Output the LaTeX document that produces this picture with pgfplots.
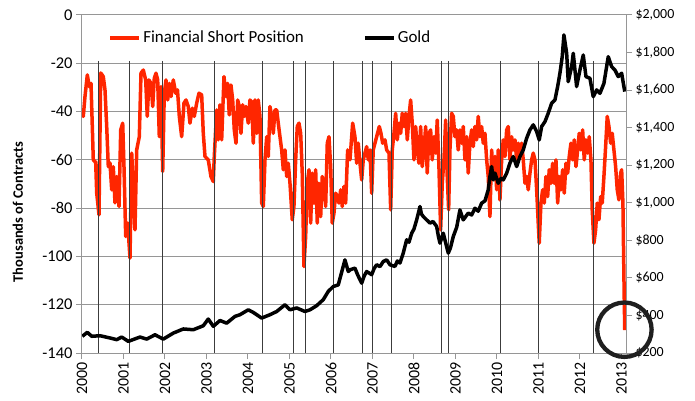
\documentclass[border=0pt]{standalone}
\usepackage{pgfplots}
\pgfplotsset{compat=1.18}
\usepackage{fontspec}
\setmainfont{Carlito}
\definecolor{fsred}{RGB}{255,38,0}
\definecolor{gridgray}{RGB}{150,150,150}
\definecolor{vline}{RGB}{60,60,60}
\begin{document}
\begin{tikzpicture}
\useasboundingbox (-82bp,-48bp) rectangle (613bp,353bp);
\begin{axis}[
  scale only axis, width=544bp, height=338bp,
  at={(0,0)}, anchor=south west,
  xmin=2000, xmax=2013.11, ymin=-140, ymax=0,
  axis lines=box,
  xtick={2000,2001,2002,2003,2004,2005,2006,2007,2008,2009,2010,2011,2012,2013},
  xticklabels={2000,2001,2002,2003,2004,2005,2006,2007,2008,2009,2010,2011,2012,2013},
  ytick={-140,-120,-100,-80,-60,-40,-20,0},
  yticklabels={-140,-120,-100,-80,-60,-40,-20,0},
  xtick pos=left, ytick pos=left,
  ymajorgrids, major grid style={gridgray, line width=1bp},
  axis line style={gridgray, line width=1bp},
  tick style={gridgray, line width=1bp},
  tick align=outside, major tick length=6bp,
  xticklabel style={rotate=90, anchor=east, font=\fontsize{16}{19}\selectfont},
  yticklabel style={font=\fontsize{16.5}{19}\selectfont},
  ylabel={\bfseries Thousands of Contracts},
  ylabel style={font=\fontsize{14.5}{17}\selectfont, at={(axis description cs:-0.118,0.417)}, anchor=center},
  legend style={draw=none, fill=none, at={(0.048,0.933)}, anchor=west, inner sep=0pt,
     legend columns=2, font=\fontsize{17}{20}\selectfont, cells={anchor=west},
     /tikz/every even column/.append style={column sep=57bp}},
  legend image code/.code={\draw[#1, line width=4bp] (0bp,0bp) -- (29bp,0bp);},
]
\addplot[fsred, line width=3.5bp, line join=round] coordinates {
(2000.000,-40.5)(2000.031,-42)(2000.072,-33.8)(2000.128,-24.8)(2000.176,-29.7)(2000.217,-28.3)(2000.248,-46)(2000.272,-60)(2000.330,-61)(2000.354,-73.7)(2000.410,-82.8)(2000.451,-24)(2000.513,-25.5)(2000.554,-31)(2000.595,-46)(2000.634,-62.8)(2000.675,-61.3)(2000.716,-72.4)(2000.754,-62.8)(2000.795,-77.8)(2000.836,-66.9)(2000.892,-79.3)(2000.933,-47.6)(2000.981,-44.8)(2001.012,-62.8)(2001.053,-91.7)(2001.101,-86.2)(2001.157,-100.7)(2001.198,-57.2)(2001.236,-72.4)(2001.277,-89)(2001.318,-55.9)(2001.381,-50.4)(2001.422,-24.1)(2001.477,-22.8)(2001.535,-26.9)(2001.573,-42)(2001.614,-26.9)(2001.663,-28.3)(2001.704,-37.9)(2001.742,-26.2)(2001.783,-24.1)(2001.824,-26.9)(2001.863,-50.4)(2001.904,-29.7)(2001.945,-64.8)(2001.983,-32.4)(2002.024,-26.9)(2002.065,-35.2)(2002.104,-28.3)(2002.145,-33.8)(2002.200,-26.9)(2002.258,-32.4)(2002.301,-31)(2002.345,-42)(2002.402,-50.4)(2002.458,-36.5)(2002.506,-35.2)(2002.561,-37.9)(2002.602,-44.8)(2002.658,-38.6)(2002.706,-42)(2002.764,-36.5)(2002.819,-32.4)(2002.884,-33.1)(2002.923,-49)(2002.964,-58.6)(2003.043,-60)(2003.108,-66.9)(2003.164,-69)(2003.188,-58.6)(2003.246,-39.3)(2003.284,-51.7)(2003.325,-37.2)(2003.366,-51.7)(2003.422,-25.5)(2003.470,-33.8)(2003.511,-28.3)(2003.549,-41.4)(2003.590,-29)(2003.631,-35.2)(2003.670,-47.6)(2003.711,-53.1)(2003.752,-35.2)(2003.790,-37.9)(2003.831,-49)(2003.872,-37.2)(2003.911,-42)(2003.952,-37.9)(2004.007,-44.8)(2004.048,-35.2)(2004.089,-36)(2004.128,-53.1)(2004.169,-35.2)(2004.210,-49)(2004.248,-35.2)(2004.289,-42)(2004.330,-77.9)(2004.369,-79.3)(2004.410,-60)(2004.451,-50.4)(2004.489,-58.6)(2004.530,-37.9)(2004.571,-42)(2004.610,-49)(2004.651,-39.3)(2004.692,-39.3)(2004.730,-44.8)(2004.771,-50.4)(2004.812,-55.9)(2004.851,-64.1)(2004.892,-55.9)(2004.933,-66.9)(2004.971,-61.4)(2005.012,-69.7)(2005.067,-84.8)(2005.108,-79.3)(2005.149,-60)(2005.188,-46.2)(2005.229,-44.8)(2005.270,-49)(2005.308,-65.5)(2005.349,-104.2)(2005.390,-91.7)(2005.429,-69.7)(2005.470,-64.1)(2005.511,-86.2)(2005.549,-65.5)(2005.590,-77.9)(2005.631,-64.1)(2005.670,-86.2)(2005.711,-69.7)(2005.752,-83.5)(2005.790,-66.9)(2005.831,-69.7)(2005.872,-79.3)(2005.911,-53.1)(2005.952,-50.4)(2005.993,-62.8)(2006.031,-86.2)(2006.072,-82.1)(2006.113,-73.8)(2006.152,-75.2)(2006.193,-77.9)(2006.234,-72.4)(2006.272,-79.3)(2006.313,-71)(2006.354,-77.9)(2006.402,-55.9)(2006.458,-60)(2006.523,-44.8)(2006.578,-50.4)(2006.619,-61.4)(2006.658,-53.1)(2006.699,-61.4)(2006.740,-68.3)(2006.778,-60)(2006.819,-57.2)(2006.860,-54.5)(2006.899,-60)(2006.940,-55.9)(2006.981,-73.8)(2007.019,-55.9)(2007.060,-53.1)(2007.101,-50.4)(2007.164,-46.2)(2007.205,-49)(2007.246,-53.1)(2007.301,-51.7)(2007.342,-55.9)(2007.398,-57.2)(2007.439,-80.7)(2007.477,-55.9)(2007.518,-49)(2007.559,-40.7)(2007.598,-51.7)(2007.639,-44.8)(2007.680,-49)(2007.718,-40.7)(2007.759,-46.2)(2007.800,-40.7)(2007.839,-51.7)(2007.880,-42)(2007.920,-35.2)(2007.959,-44.8)(2008.000,-60)(2008.041,-46.2)(2008.080,-55.9)(2008.120,-61.4)(2008.161,-46.2)(2008.200,-62.8)(2008.241,-55.9)(2008.282,-46.2)(2008.320,-65.5)(2008.361,-49)(2008.402,-47.6)(2008.441,-60)(2008.482,-50.4)(2008.523,-57.2)(2008.561,-43.5)(2008.602,-62.8)(2008.643,-89)(2008.682,-69.7)(2008.723,-60)(2008.764,-43.5)(2008.802,-66.9)(2008.836,-80.7)(2008.867,-55.9)(2008.908,-40.7)(2008.947,-42)(2008.988,-50.4)(2009.029,-47.6)(2009.067,-55.9)(2009.108,-47.6)(2009.149,-53.1)(2009.188,-46.2)(2009.229,-60)(2009.270,-50.4)(2009.308,-65.5)(2009.349,-53.1)(2009.390,-47.6)(2009.429,-54.5)(2009.470,-46.2)(2009.511,-51.7)(2009.549,-42)(2009.590,-50.4)(2009.631,-46.2)(2009.670,-53.1)(2009.711,-49)(2009.752,-60)(2009.790,-66.9)(2009.831,-83.5)(2009.872,-55.9)(2009.911,-66.9)(2009.952,-58.6)(2009.993,-72.4)(2010.031,-55.9)(2010.072,-76.6)(2010.113,-60)(2010.152,-51.7)(2010.193,-58.6)(2010.234,-47.6)(2010.272,-46.2)(2010.313,-60)(2010.354,-50.4)(2010.393,-55.9)(2010.434,-51.7)(2010.475,-60)(2010.513,-53.1)(2010.554,-57.2)(2010.595,-53.1)(2010.634,-60)(2010.675,-69.7)(2010.716,-66.9)(2010.754,-72.4)(2010.795,-65.5)(2010.836,-60)(2010.875,-57.2)(2010.916,-60)(2010.957,-72.4)(2010.995,-86.2)(2011.019,-94.5)(2011.060,-77.9)(2011.101,-72.4)(2011.140,-77.9)(2011.181,-66.9)(2011.222,-75.2)(2011.260,-64.1)(2011.301,-69.7)(2011.342,-61.4)(2011.381,-69.7)(2011.422,-60)(2011.463,-77.9)(2011.501,-66.9)(2011.542,-72.4)(2011.583,-64.1)(2011.622,-73.8)(2011.663,-61.4)(2011.704,-65.5)(2011.742,-58.6)(2011.783,-53.1)(2011.824,-60)(2011.863,-51.7)(2011.904,-62.8)(2011.945,-55.9)(2011.983,-49)(2012.024,-55.9)(2012.065,-47.6)(2012.104,-60)(2012.145,-51.7)(2012.186,-57.2)(2012.224,-50.4)(2012.265,-60)(2012.296,-80.7)(2012.337,-94.5)(2012.378,-89)(2012.417,-77.9)(2012.458,-84.8)(2012.499,-75.2)(2012.537,-77.9)(2012.578,-66.9)(2012.619,-54.5)(2012.658,-42)(2012.699,-46.2)(2012.740,-53.1)(2012.778,-49)(2012.819,-55.9)(2012.860,-62.8)(2012.899,-72.4)(2012.940,-76.6)(2012.981,-65.5)(2013.005,-64.1)(2013.036,-77.9)(2013.053,-100)(2013.068,-118)(2013.080,-130.5)
};
\addlegendentry{Financial Short Position}
\addlegendimage{black, line width=4bp}
\addlegendentry{Gold}
\addplot[vline, line width=1bp, forget plot, unbounded coords=jump] coordinates {
(2000.402,-19)(2000.402,-140)(2000.402,nan)
(2001.140,-19)(2001.140,-140)(2001.140,nan)
(2001.945,-19)(2001.945,-140)(2001.945,nan)
(2003.188,-19)(2003.188,-140)(2003.188,nan)
(2004.354,-19)(2004.354,-140)(2004.354,nan)
(2005.092,-19)(2005.092,-140)(2005.092,nan)
(2005.381,-19)(2005.381,-140)(2005.381,nan)
(2006.065,-19)(2006.065,-140)(2006.065,nan)
(2006.754,-19)(2006.754,-140)(2006.754,nan)
(2006.995,-19)(2006.995,-140)(2006.995,nan)
(2007.463,-19)(2007.463,-140)(2007.463,nan)
(2008.658,-19)(2008.658,-140)(2008.658,nan)
(2008.843,-19)(2008.843,-140)(2008.843,nan)
(2010.089,-19)(2010.089,-140)(2010.089,nan)
(2011.012,-19)(2011.012,-140)(2011.012,nan)
(2012.337,-19)(2012.337,-140)
};
\end{axis}
\begin{axis}[
  scale only axis, width=544bp, height=338bp,
  at={(0,0)}, anchor=south west,
  xmin=2000, xmax=2013.11, ymin=200, ymax=2000,
  axis y line*=right, axis x line=none,
  ytick={200,400,600,800,1000,1200,1400,1600,1800,2000},
  yticklabels={\$200,\$400,\$600,\$800,{\$1,000},{\$1,200},{\$1,400},{\$1,600},{\$1,800},{\$2,000}},
  axis line style={gridgray, line width=1bp},
  tick style={gridgray, line width=1bp},
  tick align=outside, major tick length=6bp,
  yticklabel style={font=\fontsize{14}{17}\selectfont},
]
\addplot[black, line width=3.5bp, line join=round] coordinates {
(2000.007,289)(2000.128,310)(2000.234,289)(2000.434,292)(2000.675,280)(2000.836,271)(2000.957,285)(2001.116,262)(2001.398,285)(2001.559,274)(2001.759,297)(2001.959,274)(2002.200,306)(2002.441,328)(2002.682,324)(2002.923,345)(2003.043,381)(2003.164,342)(2003.325,373)(2003.487,359)(2003.687,395)(2003.807,404)(2004.007,430)(2004.128,416)(2004.330,386)(2004.530,404)(2004.692,421)(2004.892,457)(2005.012,430)(2005.173,440)(2005.373,421)(2005.494,430)(2005.655,452)(2005.814,484)(2005.935,528)(2006.055,554)(2006.176,563)(2006.337,696)(2006.417,634)(2006.458,643)(2006.578,652)(2006.640,618)(2006.699,590)(2006.740,572)(2006.800,610)(2006.860,634)(2006.981,617)(2007.040,650)(2007.101,670)(2007.180,660)(2007.260,687)(2007.342,696)(2007.422,670)(2007.542,661)(2007.600,690)(2007.663,679)(2007.742,732)(2007.824,803)(2007.880,790)(2007.945,838)(2008.000,860)(2008.065,909)(2008.145,980)(2008.180,940)(2008.224,927)(2008.300,910)(2008.386,892)(2008.460,900)(2008.547,874)(2008.590,820)(2008.627,785)(2008.706,838)(2008.760,790)(2008.827,732)(2008.880,760)(2008.947,820)(2009.030,870)(2009.108,962)(2009.188,909)(2009.308,945)(2009.390,935)(2009.470,971)(2009.549,955)(2009.631,998)(2009.711,1010)(2009.790,1069)(2009.831,1140)(2009.872,1193)(2009.911,1122)(2009.952,1158)(2010.031,1104)(2010.100,1130)(2010.152,1122)(2010.234,1158)(2010.313,1211)(2010.393,1246)(2010.475,1193)(2010.554,1246)(2010.634,1282)(2010.716,1344)(2010.795,1388)(2010.875,1415)(2010.957,1379)(2011.019,1335)(2011.077,1406)(2011.157,1432)(2011.236,1477)(2011.318,1530)(2011.398,1548)(2011.463,1619)(2011.518,1690)(2011.573,1778)(2011.614,1894)(2011.680,1796)(2011.718,1645)(2011.800,1725)(2011.839,1796)(2011.920,1619)(2012.000,1707)(2012.080,1787)(2012.145,1672)(2012.241,1663)(2012.320,1565)(2012.402,1601)(2012.482,1583)(2012.578,1636)(2012.682,1778)(2012.764,1725)(2012.843,1707)(2012.923,1672)(2013.005,1690)(2013.080,1592)
};
\end{axis}
\begin{axis}[
  scale only axis, width=544bp, height=338bp,
  at={(0,0)}, anchor=south west,
  xmin=2000, xmax=2013.11, ymin=200, ymax=2000,
  hide axis, clip=false,
]
\addplot[only marks, mark=o, mark size=27.2bp, mark options={line width=4.3bp, draw=black!88}] coordinates {(2013.072,324)};
\end{axis}
\end{tikzpicture}
\end{document}
